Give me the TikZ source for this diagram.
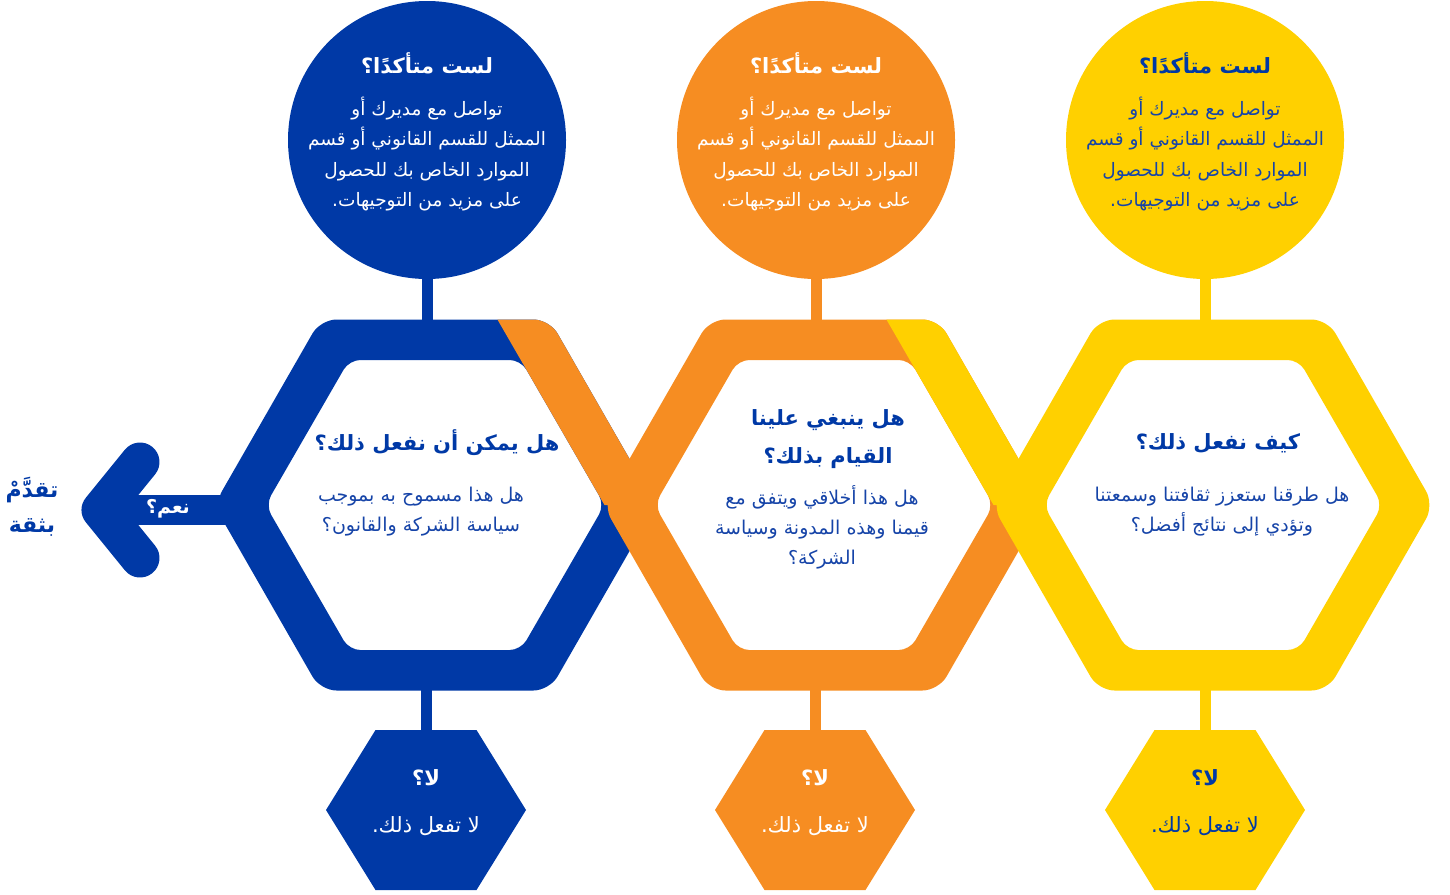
\documentclass[tikz,border=0pt]{standalone}
\usepackage{fontspec}
\setmainfont{DejaVu Sans}
\newfontfamily\arabicfont[Script=Arabic]{DejaVu Sans}
\TeXXeTstate=1
\usepackage{tikz}

\definecolor{dblue}{RGB}{0,57,166}
\definecolor{dorange}{RGB}{246,141,34}
\definecolor{dyellow}{RGB}{255,208,0}
\definecolor{tblue}{RGB}{22,68,168}

\newcommand{\rl}[1]{\beginR #1\endR}
% big hexagon, #1 = centre x
\newcommand{\outerhex}[1]{(#1-221,505) -- (#1-114.5,319.5) -- (#1+114.5,319.5) -- (#1+221,505) -- (#1+114.5,690.5) -- (#1-114.5,690.5) -- cycle}
\newcommand{\innerhex}[1]{(#1-169.5,505) -- (#1-85.8,360) -- (#1+85.8,360) -- (#1+169.5,505) -- (#1+85.8,650) -- (#1-85.8,650) -- cycle}
% small hexagon, #1 = centre x
\newcommand{\smallhex}[1]{(#1-100,810) -- (#1-50.5,730) -- (#1+50.5,730) -- (#1+100,810) -- (#1+50.5,890) -- (#1-50.5,890) -- cycle}

\tikzset{
  disc/.style={circle, minimum size=278, inner sep=0pt},
  link/.style={line width=11},
  ctitle/.style={font=\arabicfont\bfseries\fontsize{21}{28}\selectfont, align=center},
  cbody/.style={font=\arabicfont\fontsize{18.5}{30.5}\selectfont, align=center},
  htitle/.style={font=\arabicfont\bfseries\fontsize{21}{38}\selectfont, align=center, text=dblue},
  hbody/.style={font=\arabicfont\fontsize{19}{30}\selectfont, align=center, text=tblue},
  stitle/.style={font=\arabicfont\bfseries\fontsize{21}{26}\selectfont},
  sbody/.style={font=\arabicfont\fontsize{21}{26}\selectfont}
}

\begin{document}
\begin{tikzpicture}[x=1pt,y=-1pt]
\path[use as bounding box] (0,0) rectangle (1450,894);

%anchor points on the rings
\coordinate (hbt) at (427,330);
\coordinate (hot) at (816,330);
\coordinate (hyt) at (1205,330);
\coordinate (hbb) at (426,680);
\coordinate (hob) at (815,680);
\coordinate (hyb) at (1205,680);
\coordinate (sbt) at (426,740);
\coordinate (sot) at (815,740);
\coordinate (syt) at (1205,740);

%circles
\node[disc, fill=dblue] (cb) at (427,140) {};
\node[disc, fill=dorange] (co) at (816,140) {};
\node[disc, fill=dyellow] (cy) at (1205,140) {};

%connectors
\draw[link, dblue] (cb) -- (hbt);
\draw[link, dorange] (co) -- (hot);
\draw[link, dyellow] (cy) -- (hyt);
\draw[link, dblue] (hbb) -- (sbt);
\draw[link, dorange] (hob) -- (sot);
\draw[link, dyellow] (hyb) -- (syt);

%arrow
\coordinate (tip) at (101,510);
\coordinate (armup) at (140,462);
\coordinate (armdown) at (140,558);
\coordinate (shaftend) at (240,510);
\draw[dblue, line width=30] (tip) -- (shaftend);
\draw[dblue, line width=39, line cap=round, line join=round] (armup) -- (tip) -- (armdown);

%rings
\fill[dblue, even odd rule] [rounded corners=16]\outerhex{435} [rounded corners=11]\innerhex{435};
\fill[dorange, even odd rule] [rounded corners=16]\outerhex{824} [rounded corners=11]\innerhex{824};
\begin{scope}
\clip (457.3,250) -- (604.5,505) -- (735,505) -- (735,250) -- cycle;
\fill[dorange, rounded corners=16] \outerhex{435};
\end{scope}
\fill[dyellow, even odd rule] [rounded corners=16]\outerhex{1213} [rounded corners=11]\innerhex{1213};
\begin{scope}
\clip (846.3,250) -- (993.5,505) -- (1124,505) -- (1124,250) -- cycle;
\fill[dyellow, rounded corners=16] \outerhex{824};
\end{scope}

%small hexagons
\fill[dblue] \smallhex{426};
\fill[dorange] \smallhex{815};
\fill[dyellow] \smallhex{1205};

%circle texts
\node[ctitle, text=white] (tcb) at (427,63) {\rl{لست متأكدًا؟}};
\node[cbody, text=white] (bcb) at (427,154) {\rl{تواصل مع مديرك أو}\\\rl{الممثل للقسم القانوني أو قسم}\\\rl{الموارد الخاص بك للحصول}\\\rl{على مزيد من التوجيهات.}};
\node[ctitle, text=white] (tco) at (816,63) {\rl{لست متأكدًا؟}};
\node[cbody, text=white] (bco) at (816,154) {\rl{تواصل مع مديرك أو}\\\rl{الممثل للقسم القانوني أو قسم}\\\rl{الموارد الخاص بك للحصول}\\\rl{على مزيد من التوجيهات.}};
\node[ctitle, text=dblue] (tcy) at (1205,63) {\rl{لست متأكدًا؟}};
\node[cbody, text=tblue] (bcy) at (1205,154) {\rl{تواصل مع مديرك أو}\\\rl{الممثل للقسم القانوني أو قسم}\\\rl{الموارد الخاص بك للحصول}\\\rl{على مزيد من التوجيهات.}};

%hexagon texts
\node[htitle] (thb) at (437,443) {\rl{هل يمكن أن نفعل ذلك؟}};
\node[hbody] (bhb) at (421,512) {\rl{هل هذا مسموح به بموجب}\\\rl{سياسة الشركة والقانون؟}};
\node[htitle] (tho) at (828,439) {\rl{هل ينبغي علينا}\\\rl{القيام بذلك؟}};
\node[hbody] (bho) at (822,527) {\rl{هل هذا أخلاقي ويتفق مع}\\\rl{قيمنا وهذه المدونة وسياسة}\\\rl{الشركة؟}};
\node[htitle] (thy) at (1218,443) {\rl{كيف نفعل ذلك؟}};
\node[hbody] (bhy) at (1222,512) {\rl{هل طرقنا ستعزز ثقافتنا وسمعتنا}\\\rl{وتؤدي إلى نتائج أفضل؟}};

%small hexagon texts
\node[stitle, text=white] (tsb) at (426,778) {\rl{لا؟}};
\node[sbody, text=white] (bsb) at (426,826) {\rl{لا تفعل ذلك.}};
\node[stitle, text=white] (tso) at (815,778) {\rl{لا؟}};
\node[sbody, text=white] (bso) at (815,826) {\rl{لا تفعل ذلك.}};
\node[stitle, text=dblue] (tsy) at (1205,778) {\rl{لا؟}};
\node[sbody, text=dblue] (bsy) at (1205,826) {\rl{لا تفعل ذلك.}};

%arrow texts
\node[font=\arabicfont\bfseries\fontsize{19}{24}\selectfont, text=white] (yes) at (168,509) {\rl{نعم؟}};
\node[font=\arabicfont\bfseries\fontsize{22}{35}\selectfont, text=dblue, align=center] (go) at (32,507) {\rl{تقدَّمْ}\\\rl{بثقة}};

\end{tikzpicture}
\end{document}
